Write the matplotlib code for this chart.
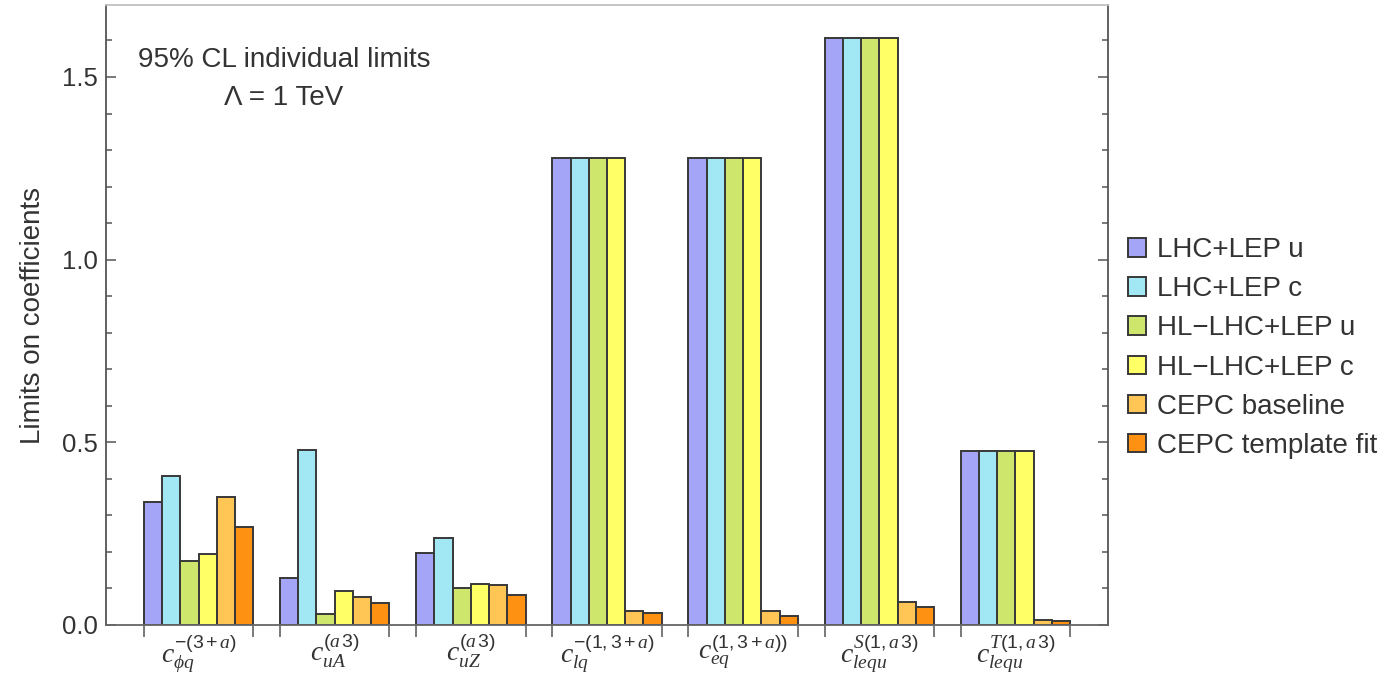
import matplotlib.pyplot as plt
from matplotlib.ticker import MultipleLocator, FixedLocator
import numpy as np

plt.rc('font', family='Liberation Sans', size=18)
plt.rc('mathtext', fontset='custom', rm='Liberation Sans',
       it='Liberation Serif:italic', bf='Liberation Sans:bold')

coefficients = [
    r'$c_{\phi q}^{-(3+a)}$',
    r'$c_{uA}^{(a\,3)}$',
    r'$c_{uZ}^{(a\,3)}$',
    r'$c_{lq}^{-(1,3+a)}$',
    r'$c_{eq}^{(1,3+a))}$',
    r'$c_{lequ}^{S(1,a\,3)}$',
    r'$c_{lequ}^{T(1,a\,3)}$',
]

lhc_lep_u = [0.338, 0.128, 0.198, 1.279, 1.279, 1.608, 0.477]
lhc_lep_c = [0.408, 0.479, 0.239, 1.279, 1.279, 1.608, 0.477]
hllhc_lep_u = [0.176, 0.031, 0.102, 1.279, 1.279, 1.608, 0.477]
hllhc_lep_c = [0.194, 0.092, 0.113, 1.279, 1.279, 1.608, 0.477]
cepc_baseline = [0.349, 0.078, 0.110, 0.039, 0.039, 0.063, 0.014]
cepc_template = [0.268, 0.060, 0.082, 0.032, 0.025, 0.050, 0.011]

series = [
    ("LHC+LEP u", lhc_lep_u, "#a5a5f8"),
    ("LHC+LEP c", lhc_lep_c, "#a2e8f4"),
    ("HL\u2212LHC+LEP u", hllhc_lep_u, "#cfe66c"),
    ("HL\u2212LHC+LEP c", hllhc_lep_c, "#ffff66"),
    ("CEPC baseline", cepc_baseline, "#ffc655"),
    ("CEPC template fit", cepc_template, "#ff9112"),
]

x = np.arange(1, len(coefficients) + 1)
group_width = 0.804
bar_width = group_width / len(series)

fig = plt.figure(figsize=(13.93, 6.78), dpi=100)
ax = fig.add_axes([106 / 1393, 53 / 678, 1002 / 1393, 620 / 678])

for i, (name, vals, col) in enumerate(series):
    offs = -group_width / 2 + (i + 0.5) * bar_width
    ax.bar(x + offs, vals, bar_width, color=col, edgecolor='#383838',
           linewidth=1.4, label=name)

ax.set_xlim(0.32, 7.68)
ax.set_ylim(0, 1.697)

# labels under each group, edge ticks at the group boundaries
ax.set_xticks(x)
ax.set_xticklabels(coefficients, fontsize=20, color='#333333')
edges = np.concatenate([x - group_width / 2, x + group_width / 2])
ax.xaxis.set_minor_locator(FixedLocator(edges))
ax.tick_params(axis='x', which='major', length=0, pad=5)
ax.tick_params(axis='x', which='minor', direction='out', length=8.5,
               width=1.1, color='#555555')

ax.yaxis.set_major_locator(MultipleLocator(0.5))
ax.yaxis.set_minor_locator(MultipleLocator(0.1))
ax.yaxis.set_major_formatter(plt.FormatStrFormatter('%.1f'))
ax.tick_params(axis='y', which='both', direction='in', right=True,
               color='#555555', width=1.1, labelsize=18.5, pad=6,
               labelcolor='#333333')
ax.tick_params(axis='y', which='major', length=7)
ax.tick_params(axis='y', which='minor', length=4.3)

ax.spines['left'].set_color('#555555')
ax.spines['right'].set_color('#555555')
ax.spines['bottom'].set_color('#666666')
ax.spines['top'].set_color('#c0c0c0')
for s in ax.spines.values():
    s.set_linewidth(1.3)

ax.set_ylabel("Limits on coefficients", fontsize=20, color='#333333')
ax.yaxis.set_label_coords(-0.06, 0.5)

fig.text(284 / 1393, 1 - 60 / 678, "95% CL individual limits",
         ha='center', va='center', fontsize=20, color='#333333')
fig.text(284 / 1393, 1 - 98 / 678, "\u039b = 1 TeV",
         ha='center', va='center', fontsize=20, color='#333333')

fig.legend(loc='center left', bbox_to_anchor=(1128 / 1393, 1 - 348 / 678),
           frameon=False, fontsize=20, handlelength=0.65, handleheight=0.65,
           handletextpad=0.38, labelspacing=0.47, borderpad=0,
           borderaxespad=0, labelcolor='#333333')

fig.savefig("out.png", dpi=100)
